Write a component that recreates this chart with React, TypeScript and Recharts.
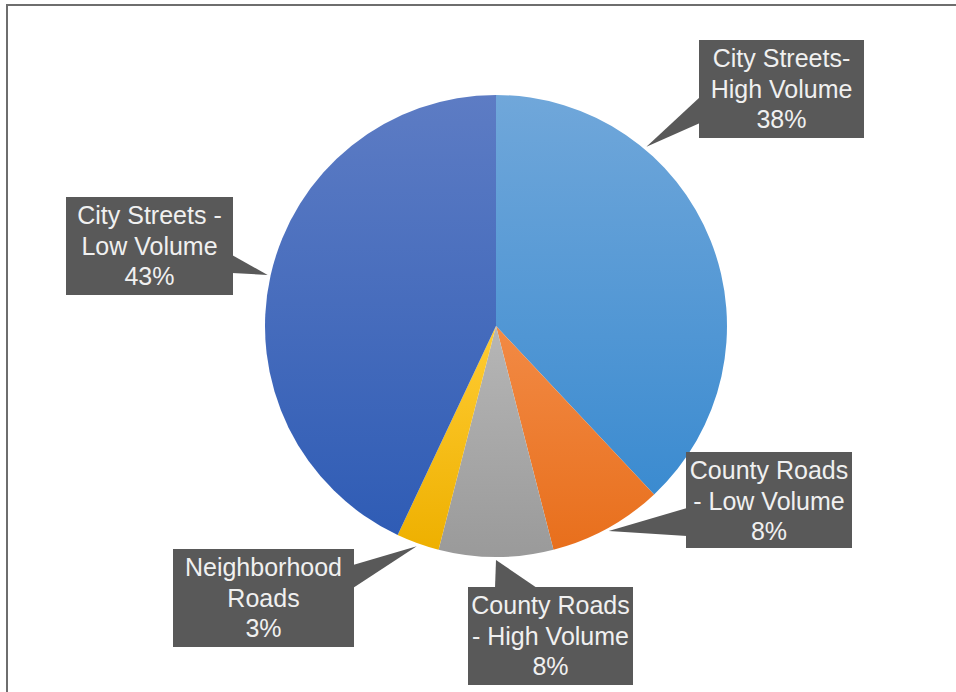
import { PieChart, Pie, Cell } from 'recharts';

const categories = [
  'City Streets-High Volume',
  'County Roads - Low Volume',
  'County Roads - High Volume',
  'Neighborhood Roads',
  'City Streets - Low Volume',
];
const labelLines = [
  ['City Streets-', 'High Volume'],
  ['County Roads', '- Low Volume'],
  ['County Roads', '- High Volume'],
  ['Neighborhood', 'Roads'],
  ['City Streets -', 'Low Volume'],
];
const shares = [38, 8, 8, 3, 43];

const gradientStops = [
  ['#70a7da', '#3b8bd0'],
  ['#f28a45', '#e86f1c'],
  ['#b6b6b6', '#9a9a9a'],
  ['#ffcc33', '#eeb000'],
  ['#5d7cc4', '#2f5cb5'],
];

// callout box placement (annotation layout, not data)
const callouts = [
  { x: 699, y: 40, w: 165, h: 98, side: 'left', a: 97, b: 123, tipAngle: 50 },
  { x: 686, y: 452, w: 166, h: 96, side: 'left', a: 508, b: 536 },
  { x: 468, y: 587, w: 165, h: 98, side: 'top', a: 495, b: 537 },
  { x: 173, y: 549, w: 181, h: 98, side: 'right', a: 565, b: 588 },
  { x: 66, y: 197, w: 167, h: 98, side: 'right', a: 255, b: 273 },
];

const data = categories.map((name, i) => ({ name, value: shares[i] }));

const RAD = Math.PI / 180;

function Callout(props: any) {
  const { cx, cy, midAngle, outerRadius, index, percent } = props;
  const c = callouts[index];
  if (!c) return null;
  const angle = c.tipAngle ?? midAngle;
  const r = outerRadius + 3;
  const tx = cx + r * Math.cos(-angle * RAD);
  const ty = cy + r * Math.sin(-angle * RAD);
  let pts: number[];
  if (c.side === 'left') pts = [c.x + 1, c.a, c.x + 1, c.b];
  else if (c.side === 'right') pts = [c.x + c.w - 1, c.a, c.x + c.w - 1, c.b];
  else pts = [c.a, c.y + 1, c.b, c.y + 1];
  const lines = [...labelLines[index], `${Math.round(percent * 100)}%`];
  const mx = c.x + c.w / 2;
  return (
    <g>
      <polygon
        points={`${pts[0]},${pts[1]} ${tx},${ty} ${pts[2]},${pts[3]}`}
        fill="#595959"
      />
      <rect x={c.x} y={c.y} width={c.w} height={c.h} fill="#595959" />
      {lines.map((t, i) => (
        <text
          key={i}
          x={mx}
          y={c.y + 27 + i * 30.5}
          textAnchor="middle"
          fill="#f0f0f0"
          fontSize={25}
          fontFamily="'Liberation Sans', Arial, sans-serif"
        >
          {t}
        </text>
      ))}
    </g>
  );
}

export default function App() {
  return (
    <div
      style={{
        position: 'absolute',
        left: 0,
        top: 0,
        width: 956,
        height: 692,
        background: '#ffffff',
      }}
    >
      <div
        style={{
          position: 'absolute',
          left: 6,
          top: 4,
          width: 950,
          height: 688,
          borderTop: '2px solid #6e6e6e',
          borderLeft: '2px solid #6e6e6e',
        }}
      />
      <div style={{ position: 'absolute', left: 0, top: 0 }}>
        <PieChart width={956} height={692} margin={{ top: 0, right: 0, bottom: 0, left: 0 }}>
          <defs>
            {gradientStops.map(([top, bottom], i) => (
              <linearGradient key={i} id={`slice${i}`} x1="0" y1="0" x2="0" y2="1">
                <stop offset="0%" stopColor={top} />
                <stop offset="100%" stopColor={bottom} />
              </linearGradient>
            ))}
          </defs>
          <Pie
            data={data}
            dataKey="value"
            nameKey="name"
            cx={496}
            cy={326}
            outerRadius={231}
            startAngle={90}
            endAngle={-270}
            stroke="none"
            labelLine={false}
            label={Callout}
            isAnimationActive={false}
          >
            {data.map((d, i) => (
              <Cell key={d.name} fill={`url(#slice${i})`} />
            ))}
          </Pie>
        </PieChart>
      </div>
    </div>
  );
}
